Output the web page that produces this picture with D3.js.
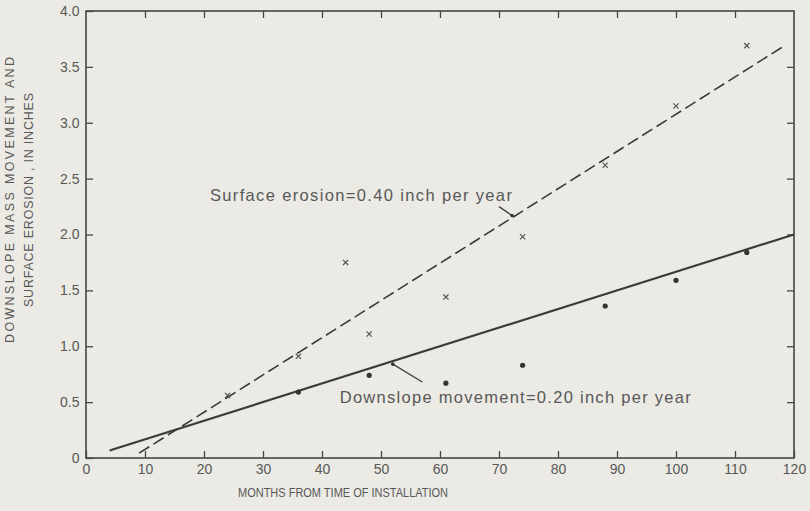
<!DOCTYPE html>
<html>
<head>
<meta charset="utf-8">
<script src="https://cdn.jsdelivr.net/npm/d3@7"></script>
<style>
  html, body { margin: 0; padding: 0; background: #ebeae4; }
  svg { display: block; }
  text { font-family: "Liberation Sans", Arial, Helvetica, sans-serif; fill: #585858; }
</style>
</head>
<body>
<svg id="chart" width="810" height="511"></svg>
<script>
// Axis ticks
const xTicks = [0, 10, 20, 30, 40, 50, 60, 70, 80, 90, 100, 110, 120];
const yTicks = [0, 0.5, 1.0, 1.5, 2.0, 2.5, 3.0, 3.5, 4.0];
const yTickLabels = ["0", "0.5", "1.0", "1.5", "2.0", "2.5", "3.0", "3.5", "4.0"];

// Surface erosion measurements (crosses)
const erosionMonths = [24, 36, 44, 48, 61, 74, 88, 100, 112];
const erosionInches = [0.56, 0.91, 1.75, 1.11, 1.44, 1.98, 2.62, 3.15, 3.69];

// Downslope mass movement measurements (dots)
const movementMonths = [36, 48, 61, 74, 88, 100, 112];
const movementInches = [0.59, 0.74, 0.67, 0.83, 1.36, 1.59, 1.84];

// Fitted trends: rate in inches per year, intercept in inches, month span
const erosionRate = 0.40, erosionIntercept = -0.257, erosionSpan = [9, 118];
const movementRate = 0.20, movementIntercept = 0.0, movementSpan = [4, 120];

// Trend labels and their pointer arrows, in data units
const erosionLabel = "Surface erosion=0.40 inch per year";
const erosionLabelAt = [21.0, 2.30];
const erosionArrow = [[70.0, 2.25], [72.2, 2.17]];
const movementLabel = "Downslope movement=0.20 inch per year";
const movementLabelAt = [43.0, 0.49];
const movementArrow = [[57.0, 0.68], [52.0, 0.84]];

const xTitle = "MONTHS FROM TIME OF INSTALLATION";
const yTitleLines = ["DOWNSLOPE MASS MOVEMENT AND", "SURFACE EROSION , IN INCHES"];

const margin = { left: 86, top: 11, right: 16, bottom: 53 };
const W = 810, H = 511;
const svg = d3.select("#chart");

const x = d3.scaleLinear().domain([0, 120]).range([margin.left, W - margin.right]);
const y = d3.scaleLinear().domain([0, 4]).range([H - margin.bottom, margin.top]);

const ink = "#3a3a3a";
const tickLen = 7;

// Plot frame
svg.append("rect")
  .attr("x", x(0)).attr("y", y(4))
  .attr("width", x(120) - x(0)).attr("height", y(0) - y(4))
  .attr("fill", "none").attr("stroke", "#444").attr("stroke-width", 1.6);

function styleAxis(g) {
  g.select(".domain").remove();
  g.selectAll(".tick line").attr("stroke", "#444").attr("stroke-width", 1.3);
  g.selectAll(".tick text").attr("fill", "#585858")
    .style("font-family", '"Liberation Sans", Arial, sans-serif');
}

// Bottom axis with inward ticks
svg.append("g")
  .attr("transform", `translate(0,${y(0)})`)
  .call(d3.axisBottom(x).tickValues(xTicks).tickSize(-tickLen).tickPadding(6).tickFormat(d3.format("d")))
  .call(styleAxis)
  .call(g => g.selectAll(".tick text").attr("font-size", 14));

// Top axis, ticks only
svg.append("g")
  .attr("transform", `translate(0,${y(4)})`)
  .call(d3.axisTop(x).tickValues(xTicks.slice(1, -1)).tickSize(-tickLen).tickFormat(""))
  .call(styleAxis);

// Left axis with inward ticks
svg.append("g")
  .attr("transform", `translate(${x(0)},0)`)
  .call(d3.axisLeft(y).tickValues(yTicks).tickSize(-tickLen).tickPadding(6.5)
    .tickFormat((d, i) => yTickLabels[i]))
  .call(styleAxis)
  .call(g => g.selectAll(".tick text").attr("font-size", 14));

// Right axis, ticks only
svg.append("g")
  .attr("transform", `translate(${x(120)},0)`)
  .call(d3.axisRight(y).tickValues(yTicks.slice(1, -1)).tickSize(-tickLen).tickFormat(""))
  .call(styleAxis);

// Trend lines
function trend(rate, intercept, span) {
  return span.map(m => [m, intercept + rate * m / 12]);
}
const line = d3.line().x(d => x(d[0])).y(d => y(d[1]));

svg.append("path")
  .datum(trend(erosionRate, erosionIntercept, erosionSpan))
  .attr("d", line)
  .attr("fill", "none").attr("stroke", ink).attr("stroke-width", 1.6)
  .attr("stroke-dasharray", "12,5");

svg.append("path")
  .datum(trend(movementRate, movementIntercept, movementSpan))
  .attr("d", line)
  .attr("fill", "none").attr("stroke", ink).attr("stroke-width", 2.1);

// Crosses for surface erosion
const crossSize = 2.6;
svg.append("g").selectAll("path")
  .data(erosionMonths.map((m, i) => [m, erosionInches[i]]))
  .join("path")
  .attr("d", d => {
    const cx = x(d[0]), cy = y(d[1]), s = crossSize;
    return `M${cx - s},${cy - s}L${cx + s},${cy + s}M${cx - s},${cy + s}L${cx + s},${cy - s}`;
  })
  .attr("stroke", "#555").attr("stroke-width", 1.2).attr("fill", "none");

// Dots for downslope movement
svg.append("g").selectAll("circle")
  .data(movementMonths.map((m, i) => [m, movementInches[i]]))
  .join("circle")
  .attr("cx", d => x(d[0])).attr("cy", d => y(d[1]))
  .attr("r", 2.6).attr("fill", "#333");

// Labels with pointer arrows
function pointer(pts) {
  const [a, b] = pts;
  svg.append("line")
    .attr("x1", x(a[0])).attr("y1", y(a[1])).attr("x2", x(b[0])).attr("y2", y(b[1]))
    .attr("stroke", "#444").attr("stroke-width", 1.4);
  svg.append("circle").attr("cx", x(b[0])).attr("cy", y(b[1])).attr("r", 1.8).attr("fill", "#333");
}
pointer(erosionArrow);
pointer(movementArrow);

svg.append("text")
  .attr("x", x(erosionLabelAt[0])).attr("y", y(erosionLabelAt[1]))
  .attr("font-size", 16.5).attr("textLength", 302).attr("lengthAdjust", "spacing")
  .text(erosionLabel);

svg.append("text")
  .attr("x", x(movementLabelAt[0])).attr("y", y(movementLabelAt[1]))
  .attr("font-size", 16.5).attr("textLength", 351).attr("lengthAdjust", "spacing")
  .text(movementLabel);

// Axis titles
svg.append("text")
  .attr("x", 238).attr("y", 497)
  .attr("font-size", 12).attr("textLength", 210).attr("lengthAdjust", "spacingAndGlyphs")
  .text(xTitle);

const yTitle = svg.append("text")
  .attr("transform", `translate(14,200) rotate(-90)`)
  .attr("text-anchor", "middle").attr("font-size", 12.5);
yTitle.selectAll("tspan").data(yTitleLines).join("tspan")
  .attr("x", 0).attr("dy", (d, i) => i === 0 ? 0 : 19)
  .attr("textLength", (d, i) => i === 0 ? 286 : 214)
  .attr("lengthAdjust", "spacing")
  .text(d => d);
</script>
</body>
</html>
